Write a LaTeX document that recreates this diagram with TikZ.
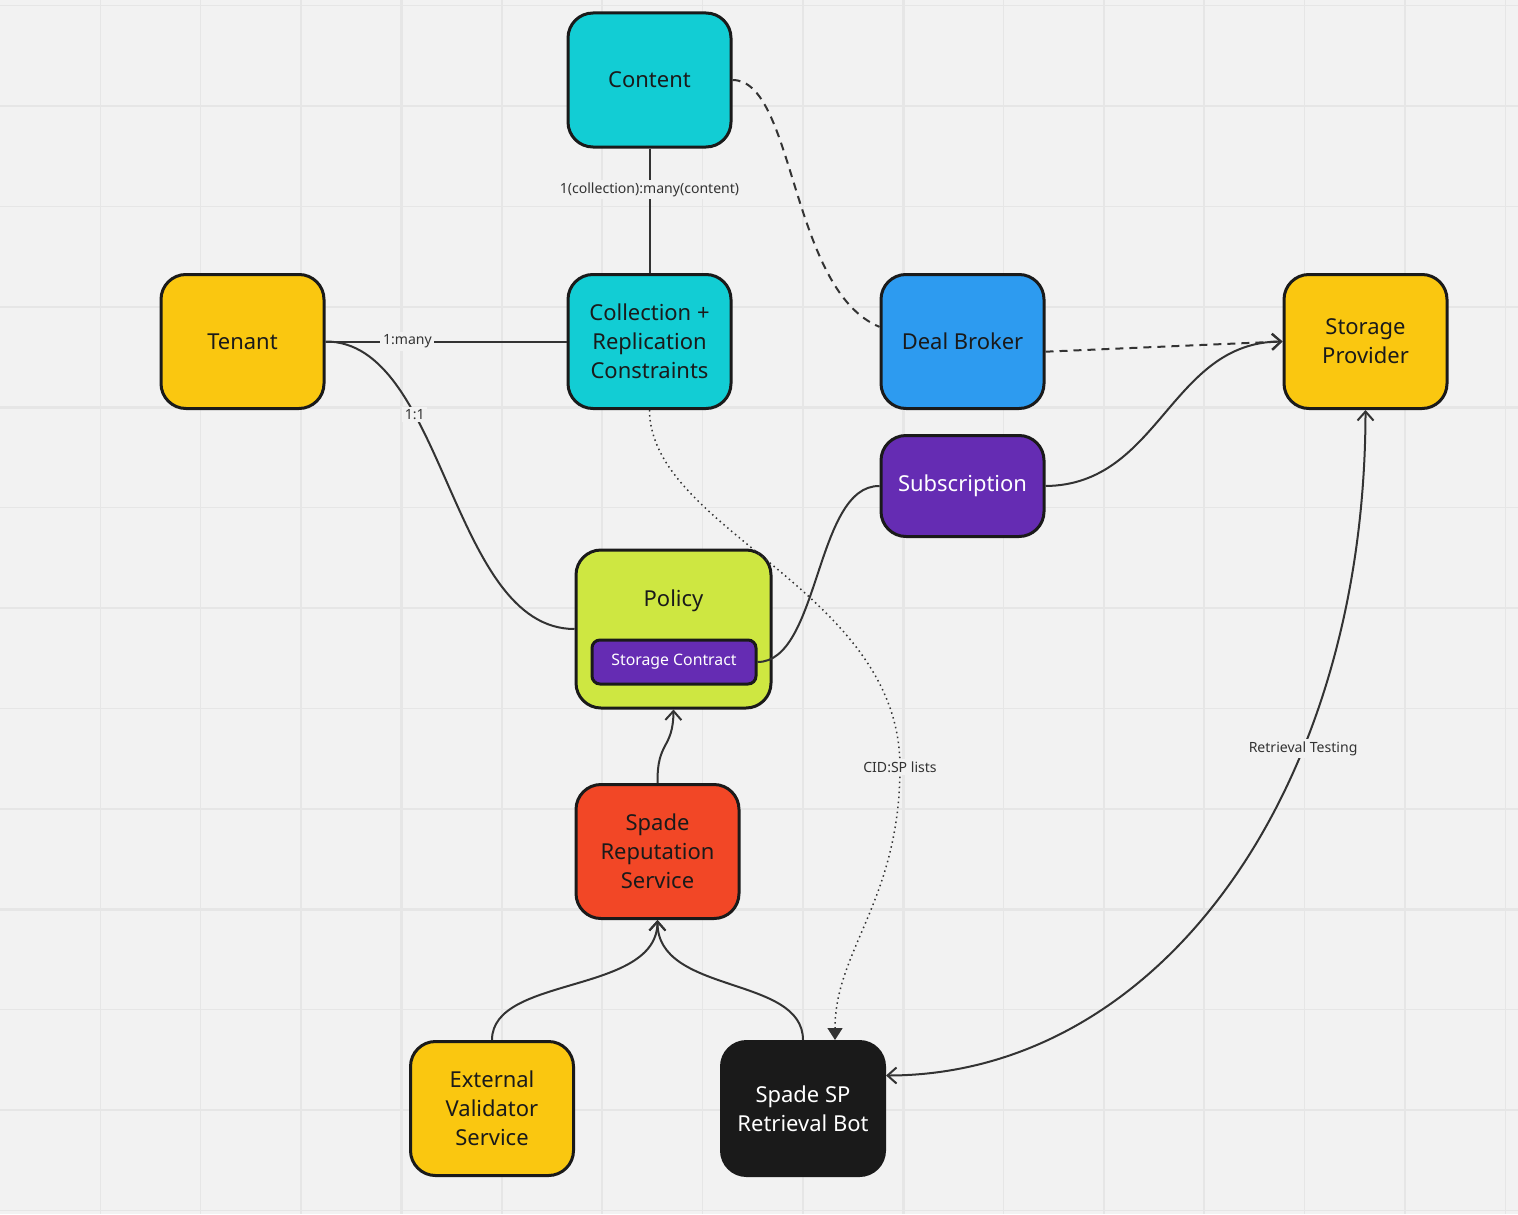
\documentclass[tikz,border=0pt]{standalone}
\usepackage{fontspec}
\setmainfont{Noto Sans}
\usepackage{tikz}
\usetikzlibrary{arrows.meta,calc}
\definecolor{bgcol}{HTML}{F2F2F2}
\definecolor{gridc}{HTML}{E6E6E6}
\definecolor{ink}{HTML}{1A1A1A}
\definecolor{wire}{HTML}{333333}
\definecolor{ccyan}{HTML}{12CDD4}
\definecolor{cyell}{HTML}{FAC710}
\definecolor{cblue}{HTML}{2D9BF0}
\definecolor{cpurp}{HTML}{652CB3}
\definecolor{clime}{HTML}{CEE741}
\definecolor{cred}{HTML}{F24726}
\tikzset{
  card/.style  = {rounded corners=5mm, draw=ink, line width=0.6mm, align=center,
                  minimum width=32.6mm, minimum height=26.8mm, inner sep=2pt,
                  font=\fontsize{12.5}{16.4}\selectfont, text=ink},
  chip/.style  = {rounded corners=1.6mm, draw=ink, line width=0.6mm, fill=cpurp,
                  minimum width=32.8mm, minimum height=8.8mm, inner sep=1pt,
                  font=\fontsize{9}{11}\selectfont, text=white},
  link/.style  = {draw=wire, line width=0.4mm},
  ar/.style    = {-{Straight Barb[length=1.8mm,width=3.2mm]}},
  lbl/.style   = {fill=bgcol, font=\fontsize{8}{9.5}\selectfont, text=wire, inner sep=1.5pt},
  gridln/.style = {draw=gridc, line width=0.3mm},
}
\begin{document}
\begin{tikzpicture}[x=0.2mm, y=-0.2mm]
  % canvas + grid
  \fill[bgcol] (0,0) rectangle (1518,1214);
  \useasboundingbox (0,0) rectangle (1518,1214);
  \foreach \k in {1,...,15} \draw[gridln] (\k*100.35,0) -- (\k*100.35,1214);
  \foreach \k in {0,...,12} \draw[gridln] (0,5.7+\k*100.4) -- (1518,5.7+\k*100.4);
  \foreach \k in {4,9,14} \draw[gridln, line width=0.55mm] (\k*100.35,0) -- (\k*100.35,1214);
  \foreach \k in {4,9} \draw[gridln, line width=0.55mm] (0,5.7+\k*100.4) -- (1518,5.7+\k*100.4);

  % boxes
  \node[card, fill=ccyan] (content) at (649.5,80) {Content};
  \node[card, fill=ccyan] (coll) at (649.5,341.5) {Collection +\\Replication\\Constraints};
  \node[card, fill=cyell] (tenant) at (242.5,341.5) {Tenant};
  \node[card, fill=cblue] (broker) at (962.5,341.5) {Deal Broker};
  \node[card, fill=cyell] (sp) at (1365.5,341.5) {Storage\\Provider};
  \node[card, fill=cpurp, text=white, minimum height=20.2mm] (sub) at (962.5,486) {Subscription};
  \node[card, fill=clime, minimum width=39mm, minimum height=31.6mm] (policy) at (673.5,629) {};
  \node[font=\fontsize{12.5}{16.4}\selectfont, text=ink] (policytxt) at (673.5,601) {Policy};
  \node[chip] (contract) at (674,662) {Storage Contract};
  \node[card, fill=cred] (rep) at (657.5,851.5) {Spade\\Reputation\\Service};
  \node[card, fill=cyell] (ext) at (492,1108.5) {External\\Validator\\Service};
  \node[card, fill=ink, text=white] (bot) at (803,1108.5) {Spade SP\\Retrieval Bot};

  % relations
  \draw[link] (content.south) -- node[lbl, pos=0.33] {1(collection):many(content)} (coll.north);
  \draw[link] (tenant.east) -- node[lbl, pos=0.34] {1:many} (coll.west);
  \draw[link] (tenant.east) .. controls (445,341) and (450,629) .. node[lbl, pos=0.33] {1:1} (policy.west);
  \draw[link, dash pattern=on 1.6mm off 1.2mm] (content.east) .. controls (795,80) and (790,290) .. (broker.170);
  \draw[link, ar, dash pattern=on 1.6mm off 1.2mm] (broker.-7) -- (sp.west);
  \draw[link, ar] (sub.east) .. controls (1160,485) and (1170,342) .. (sp.west);
  \draw[link] (sub.west) .. controls (815,485) and (820,662) .. (contract.east);
  \draw[link, line width=0.3mm, dotted, -{Triangle[length=2.4mm,width=3mm]}]
    (coll.south) .. controls (650,530) and (900,590) .. (900,767)
    node[lbl] {CID:SP lists}
    .. controls (900,900) and (835,950) .. ($(bot.north)+(32,0)$);
  \draw[link, ar] (rep.north) .. controls (657,740) and (673,750) .. (policy.south);
  \draw[link, ar] (ext.north) .. controls (492,975) and (657,995) .. (rep.south);
  \draw[link, ar] (bot.north) .. controls (803,975) and (657,995) .. (rep.south);
  \draw[link, {Straight Barb[length=1.8mm,width=3.2mm]}-{Straight Barb[length=1.8mm,width=3.2mm]}]
    (sp.south) .. controls (1365,790) and (1160,1075) .. node[lbl, pos=0.33] {Retrieval Testing} ($(bot.east)+(0,-33)$);
\end{tikzpicture}
\end{document}
